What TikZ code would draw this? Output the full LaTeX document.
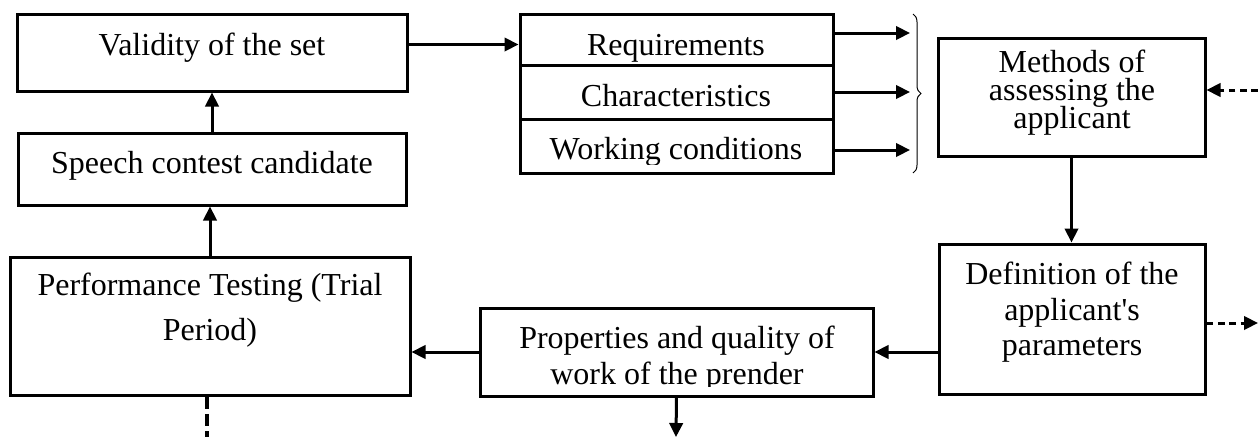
\documentclass[tikz,border=0pt]{standalone}
\usepackage{fontspec}
\setmainfont{Liberation Serif}[Ligatures=TeXOff]
\usetikzlibrary{arrows.meta,decorations.pathreplacing}

\tikzset{every picture/.style={line width=2.25pt}}
\tikzset{
  blk/.style={draw, rectangle, inner sep=0pt},
  lbl/.style={inner sep=0pt, anchor=base, font=\fontsize{24}{28}\selectfont},
  arr/.style={-{Triangle[length=10.5pt,width=10pt]}},
  darr/.style={arr, dash pattern=on 5pt off 3.5pt},
}

\begin{document}
\begin{tikzpicture}[x=0.75pt,y=0.75pt,yscale=-1,xscale=1]
\useasboundingbox (0,0) rectangle (1258,437);

%Shape: Rectangle [valid]
\node[blk, minimum width=292.5pt, minimum height=57.75pt] (valid) at (212,52.5) {};
%Shape: Rectangle [speech]
\node[blk, minimum width=291pt, minimum height=54pt] (speech) at (212,169) {};
%Shape: Rectangle [perf]
\node[blk, minimum width=300pt, minimum height=103.5pt] (perf) at (210,326) {};
%Shape: Rectangle [req / char / work]
\node[blk, minimum width=234.75pt, minimum height=38.25pt] (req) at (676.5,39.5) {};
\node[blk, minimum width=234.75pt, minimum height=40.5pt] (char) at (676.5,92) {};
\node[blk, minimum width=234.75pt, minimum height=40.5pt] (work) at (676.5,146) {};
%Shape: Rectangle [methods]
\node[blk, minimum width=200.25pt, minimum height=88.5pt] (methods) at (1071.5,97) {};
%Shape: Rectangle [defn]
\node[blk, minimum width=199.5pt, minimum height=112.5pt] (defn) at (1072,319) {};
%Shape: Rectangle [props]
\node[blk, minimum width=294.75pt, minimum height=66pt] (props) at (676.5,352) {};

% Text Node
\node[lbl] (valid-t) at (212,55) {Validity of the set};
\node[lbl] (speech-t) at (212,173) {Speech contest candidate};
\node[lbl] (perf-t1) at (210,295) {Performance Testing (Trial};
\node[lbl] (perf-t2) at (210,340) {Period)};
\node[lbl] (req-t) at (676,55) {Requirements};
\node[lbl] (char-t) at (676,106) {Characteristics};
\begin{scope}
\clip (520,14) rectangle (833,164);
\node[lbl] (work-t) at (676,159) {Working conditions};
\end{scope}
\node[lbl] (methods-t1) at (1072,72) {Methods of};
\node[lbl] (methods-t2) at (1072,100) {assessing the};
\node[lbl] (methods-t3) at (1072,128) {applicant};
\node[lbl] (defn-t1) at (1072,284) {Definition of the};
\node[lbl] (defn-t2) at (1072,320) {applicant's};
\node[lbl] (defn-t3) at (1072,355) {parameters};
\node[lbl] (props-t1) at (677,348) {Properties and quality of};
\begin{scope}
\clip (480,308) rectangle (873,386);
\node[lbl] (props-t2) at (677,384) {work of the prender};
\end{scope}

% free ends
\coordinate (br1) at (910,33);
\coordinate (br2) at (910,92);
\coordinate (br3) at (910,150);
\coordinate (inR) at (1258,90);
\coordinate (outR) at (1258,323);
\coordinate (outB) at (676,437);
\coordinate (outL) at (207,437);

%Straight Lines
\draw[arr] ([yshift=-6pt]valid.east) -- ([yshift=-6pt]valid.east -| req.west);
\draw[arr] (req.east |- br1) -- (br1);
\draw[arr] (char.east |- br2) -- (br2);
\draw[arr] (work.east |- br3) -- (br3);
\draw[darr] (inR) -- (inR -| methods.east);
\draw[arr] (methods.south) -- (methods.south |- defn.north);
\draw[darr] (outR -| defn.east) -- (outR);
\draw[arr] (props.east -| defn.west) -- (props.east);
\draw[arr] (props.west) -- (props.west -| perf.east);
\draw[arr] (props.south) -- (outB);
\draw[dash pattern=on 9pt off 4pt, line width=3pt] (outL |- perf.south) -- (outL);
\draw[arr] (perf.north) -- (perf.north |- speech.south);
\draw[arr] (speech.north) -- (speech.north |- valid.south);

%Shape: Brace
\draw[line width=0.75pt, decorate, decoration={brace, amplitude=6pt}] (913,14) -- (913,173);

\end{tikzpicture}
\end{document}
